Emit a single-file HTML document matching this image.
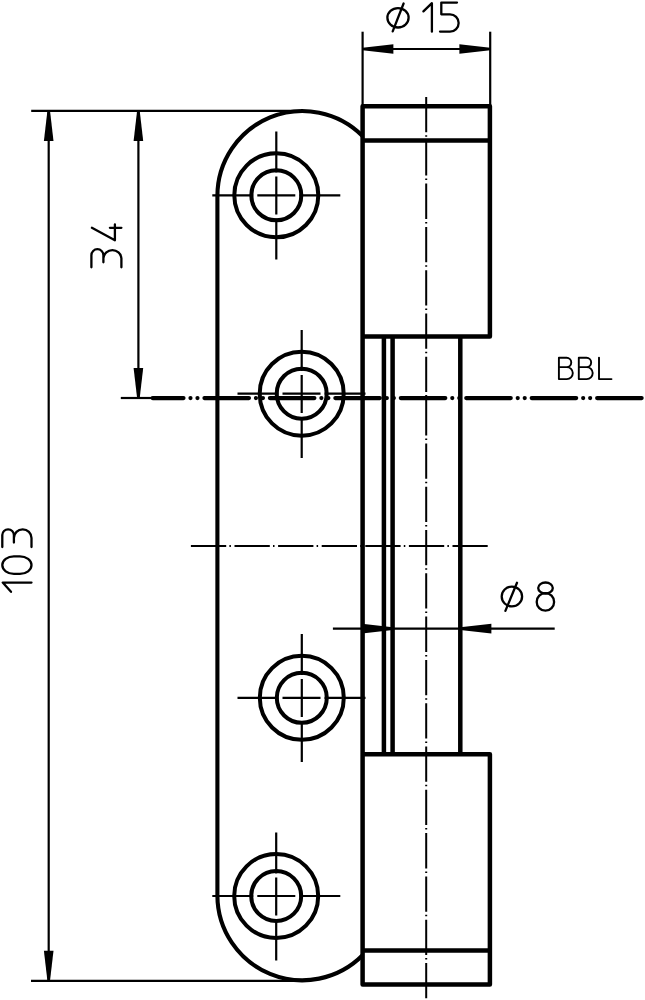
<!DOCTYPE html>
<html>
<head>
<meta charset="utf-8">
<title>Hinge drawing</title>
<style>
html,body{margin:0;padding:0;background:#fff;}
body{width:645px;height:1000px;overflow:hidden;font-family:"Liberation Sans",sans-serif;}
svg{display:block;}
.k{stroke:#000;stroke-width:4.5;fill:none;stroke-linecap:butt;stroke-linejoin:miter;}
.t{stroke:#000;stroke-width:2.2;fill:none;}
.c{stroke:#000;stroke-width:2;fill:none;stroke-dasharray:35.3 3 1.5 3.5;}
.g{stroke:#000;stroke-width:2.3;fill:none;stroke-linecap:round;stroke-linejoin:round;}
.s{stroke:#000;stroke-width:1.9;fill:none;stroke-linecap:round;stroke-linejoin:round;}
.a{fill:#000;stroke:none;}
</style>
</head>
<body>
<svg width="645" height="1000" viewBox="0 0 645 1000">
<rect x="0" y="0" width="645" height="1000" fill="#fff"/>

<!-- ===== thin lines: extension + dimension lines ===== -->
<g class="t">
  <!-- 103 / 34 extension lines -->
  <line x1="31.2" y1="110.8" x2="300" y2="110.8"/>
  <line x1="31" y1="980.8" x2="300" y2="980.8"/>
  <line x1="48.7" y1="111.5" x2="48.7" y2="980"/>
  <line x1="138.4" y1="111.5" x2="138.4" y2="397"/>
  <line x1="120.8" y1="398" x2="152" y2="398"/>
  <!-- dia 15 -->
  <line x1="362.6" y1="31.7" x2="362.6" y2="106"/>
  <line x1="490.2" y1="31.7" x2="490.2" y2="106"/>
  <line x1="364" y1="49" x2="489" y2="49"/>
  <!-- dia 8 -->
  <line x1="332.9" y1="628.6" x2="554.7" y2="628.6"/>
</g>

<!-- arrows -->
<g class="a">
  <polygon points="47.4,110.8 50,110.8 53.5,141 43.9,141"/>
  <polygon points="47.4,980.8 50,980.8 53.5,950.8 43.9,950.8"/>
  <polygon points="137.1,110.8 139.7,110.8 143.2,141 133.6,141"/>
  <polygon points="137.1,398 139.7,398 143.2,368 133.6,368"/>
  <polygon points="362.6,47.7 362.6,50.3 393.4,53.7 393.4,44.3"/>
  <polygon points="490.2,47.7 490.2,50.3 459.4,53.7 459.4,44.3"/>
  <polygon points="392.6,627.3 392.6,629.9 362,633.4 362,623.8"/>
  <polygon points="460.3,627.3 460.3,629.9 491.4,633.4 491.4,623.8"/>
</g>

<!-- ===== centre lines ===== -->
<g class="c">
  <line x1="426.2" y1="97" x2="426.2" y2="998.2"/>
  <line x1="190.9" y1="546.1" x2="487.7" y2="546.1" style="stroke-dasharray:35.3 3.2 1.5 3.6"/>
</g>
<!-- hole cross-hairs -->
<g class="t" style="stroke-dasharray:41 4 38 4 41">
  <line x1="212.3" y1="195.3" x2="340.3" y2="195.3"/>
  <line x1="276.3" y1="131.5" x2="276.3" y2="259.5"/>
  <line x1="237.5" y1="393.7" x2="365.5" y2="393.7"/>
  <line x1="301.7" y1="330" x2="301.7" y2="458"/>
  <line x1="237.5" y1="697.8" x2="365.5" y2="697.8"/>
  <line x1="301.8" y1="634" x2="301.8" y2="762"/>
  <line x1="212.3" y1="896" x2="340.3" y2="896"/>
  <line x1="276.2" y1="832.5" x2="276.2" y2="960.5"/>
</g>

<!-- ===== thick outline ===== -->
<g class="k">
  <!-- plate -->
  <path d="M362.6,136 A85,85 0 0 0 217.4,195.8 V895.5 A85,85 0 0 0 362.6,955.3" style="stroke-width:4.1"/>
  <!-- holes --><g style="stroke-width:4">
  <circle cx="276.3" cy="195.3" r="42"/><circle cx="276.3" cy="195.3" r="25"/>
  <circle cx="301.7" cy="393.7" r="42"/><circle cx="301.7" cy="393.7" r="25"/>
  <circle cx="301.8" cy="697.8" r="42"/><circle cx="301.8" cy="697.8" r="25"/>
  <circle cx="276.2" cy="896" r="42"/><circle cx="276.2" cy="896" r="25"/></g>
  <!-- barrel -->
  <path d="M362.6,336.6 H489.9 V106.3 H362.6 V984.4 H489.9 V754.3 H362.6" style="stroke-linejoin:round"/>
  <path d="M362.6,140.4 H489.9 M362.6,950.6 H489.9"/>
  <!-- pin -->
  <path d="M383.9,336.7 V754.3 M392.6,336.7 V754.3 M460.3,336.7 V754.3"/>
</g>

<!-- BBL line -->
<path d="M152.65,398.05 H641.8" stroke="#000" stroke-width="4.2" fill="none" stroke-linecap="round" stroke-dasharray="44.5 6.98 0.01 6.98 0.01 6.97" stroke-dashoffset="13.65"/>

<!-- ===== text (stroke font) ===== -->
<!-- dia 15 -->
<g class="g">
  <ellipse cx="398" cy="17.8" rx="10.6" ry="9.7"/>
  <path d="M392.7,31.4 L403.6,3.5"/>
  <path d="M423.4,11.4 L431.9,3.2 V31.7"/>
  <path d="M457,2.6 H441.3 V14.3 H450 A8.65,8.65 0 0 1 450,31.6 H440"/>
</g>
<!-- dia 8 -->
<g class="g">
  <ellipse cx="511.9" cy="596.5" rx="10.2" ry="9.9"/>
  <path d="M505.4,610.9 L517,582.8"/>
  <ellipse cx="545.5" cy="588" rx="7.3" ry="5.5"/>
  <ellipse cx="545.4" cy="601.9" rx="8.7" ry="8.8"/>
</g>
<!-- 34 -->
<g class="g" transform="translate(121.4,267.3) rotate(-90)">
  <path d="M0,-30 H12.1 A6,6 0 0 1 12.1,-18 H5 M9.05,-18 A9.05,9.05 0 0 1 9.05,0 H0"/>
  <path transform="translate(27.1,0)" d="M12.4,-29.5 L0,-6.5 H15.7 M12.4,-11.5 V0"/>
</g>
<!-- 103 -->
<g class="g" transform="translate(31.5,591.8) rotate(-90)">
  <path d="M0,-20.5 L9.2,-28.8 V0"/>
  <path transform="translate(17.9,0)" d="M0,-11.6 V-17.6 A8.8,11.6 0 0 1 17.6,-17.6 V-11.6 A8.8,11.6 0 0 1 0,-11.6 Z"/>
  <path transform="translate(44.7,0)" d="M0,-29.2 H12 A5.8,5.8 0 0 1 12,-17.6 H4.6 M9,-17.6 A8.8,8.8 0 0 1 9,0 H0"/>
</g>
<!-- BBL -->
<g class="s">
  <path d="M558.9,357.8 V379.1 H566.8 A6,6 0 0 0 566.8,367.1 H558.9 M566.6,367.1 A4.65,4.65 0 0 0 566.6,357.8 H558.9"/>
  <path transform="translate(19.9,0)" d="M558.9,357.8 V379.1 H566.8 A6,6 0 0 0 566.8,367.1 H558.9 M566.6,367.1 A4.65,4.65 0 0 0 566.6,357.8 H558.9"/>
  <path d="M599,357.6 V379.1 H611.5"/>
</g>
</svg>
</body>
</html>
